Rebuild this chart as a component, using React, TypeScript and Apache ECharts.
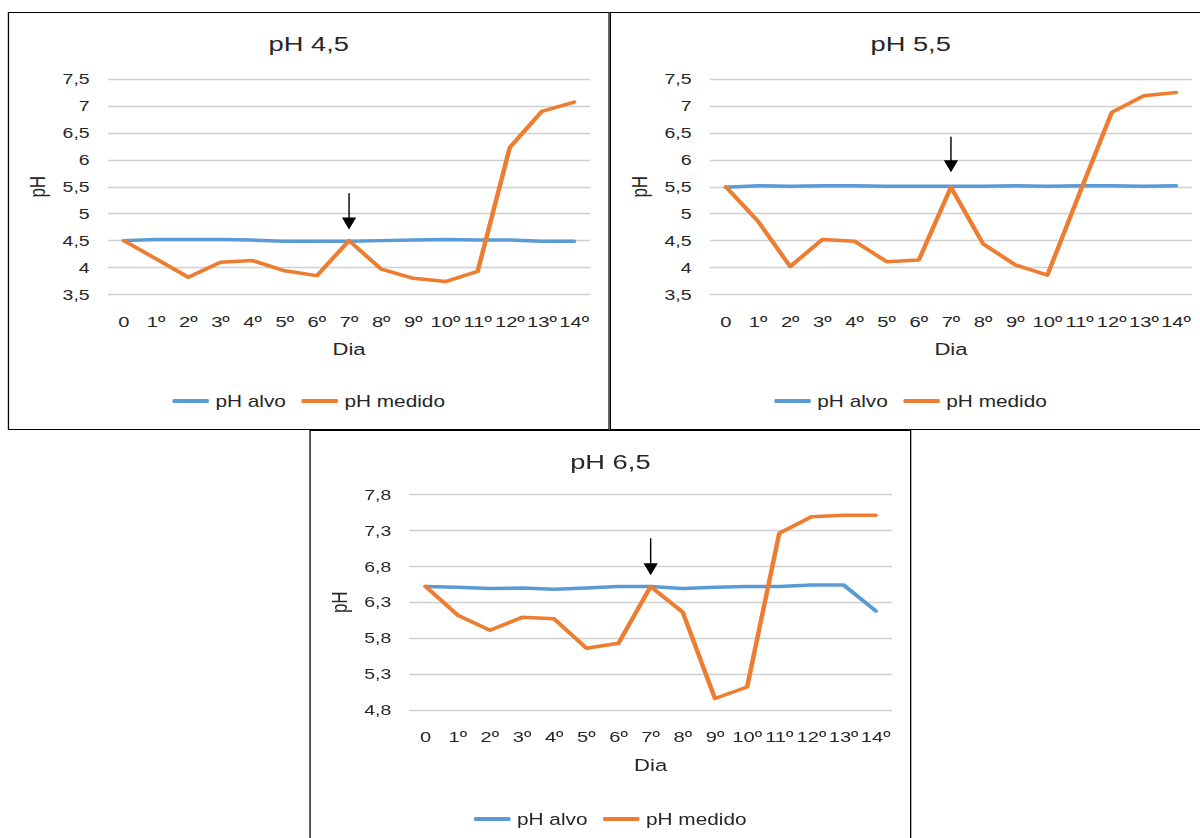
import React, { useEffect, useRef } from "react";
import * as echarts from "echarts";

// Days of the trial
const days = ["0", "1º", "2º", "3º", "4º", "5º", "6º", "7º", "8º", "9º", "10º", "11º", "12º", "13º", "14º"];

// pH 4,5 treatment
const alvo45 = [4.5, 4.52, 4.52, 4.52, 4.51, 4.49, 4.49, 4.49, 4.5, 4.51, 4.52, 4.51, 4.51, 4.49, 4.49];
const medido45 = [4.5, 4.16, 3.82, 4.1, 4.13, 3.94, 3.85, 4.5, 3.97, 3.8, 3.74, 3.93, 6.23, 6.9, 7.07];

// pH 5,5 treatment
const alvo55 = [5.49, 5.52, 5.51, 5.52, 5.52, 5.51, 5.51, 5.51, 5.51, 5.52, 5.51, 5.52, 5.52, 5.51, 5.52];
const medido55 = [5.5, 4.86, 4.02, 4.52, 4.49, 4.11, 4.14, 5.49, 4.44, 4.05, 3.86, 5.38, 6.88, 7.19, 7.25];

// pH 6,5 treatment
const alvo65 = [6.52, 6.51, 6.49, 6.5, 6.48, 6.5, 6.52, 6.52, 6.49, 6.51, 6.52, 6.52, 6.54, 6.54, 6.18];
const medido65 = [6.52, 6.12, 5.91, 6.09, 6.07, 5.66, 5.73, 6.52, 6.16, 4.96, 5.12, 7.26, 7.49, 7.51, 7.51];

// Day of the intervention marked by the arrow
const arrowDay = "7º";

const seriesNames = ["pH alvo", "pH medido"];

// Horizontal stretch applied to the whole figure
const STRETCH = 1.3;
const PAGE_W = 1200;
const PAGE_H = 838;
const PANEL_W = 602 / STRETCH;
const PANEL_H = 418;

const FONT = '"Liberation Sans", Arial, Helvetica, sans-serif';
const TEXT = "#262626";
const BLUE = "#5b9bd5";
const ORANGE = "#ed7d31";
const GRID = "#d0d0d0";

type Panel = {
  key: string;
  title: string;
  alvo: number[];
  medido: number[];
  yMin: number;
  yMax: number;
  arrowFrom: number;
  arrowTo: number;
  left: number;
  top: number;
  gridTop: number;
};

const panels: Panel[] = [
  { key: "p45", title: "pH 4,5", alvo: alvo45, medido: medido45, yMin: 3.5, yMax: 7.5, arrowFrom: 5.38, arrowTo: 4.82, left: 8 / STRETCH, top: 12, gridTop: 67 },
  { key: "p55", title: "pH 5,5", alvo: alvo55, medido: medido55, yMin: 3.5, yMax: 7.5, arrowFrom: 6.43, arrowTo: 5.88, left: 610 / STRETCH, top: 12, gridTop: 67 },
  { key: "p65", title: "pH 6,5", alvo: alvo65, medido: medido65, yMin: 4.8, yMax: 7.8, arrowFrom: 7.19, arrowTo: 6.76, left: 309 / STRETCH, top: 430, gridTop: 64.5 },
];

const fmt = (v: number) => {
  const s = v.toFixed(1);
  return (s.endsWith(".0") ? s.slice(0, -2) : s).replace(".", ",");
};

function buildOption(p: Panel): echarts.EChartsOption {
  return {
    animation: false,
    backgroundColor: "#ffffff",
    textStyle: { fontFamily: FONT, color: TEXT },
    title: {
      text: p.title,
      left: "center",
      top: 21,
      padding: 0,
      textStyle: { fontFamily: FONT, fontSize: 21, fontWeight: "normal", color: TEXT },
    },
    legend: {
      data: seriesNames,
      left: "center",
      top: 381,
      padding: 0,
      icon: "roundRect",
      itemWidth: 28,
      itemHeight: 4,
      itemGap: 12,
      textStyle: { fontFamily: FONT, fontSize: 16, color: TEXT },
    },
    grid: { left: 77, width: 371, top: p.gridTop, height: 215.5 },
    xAxis: {
      type: "category",
      data: days,
      boundaryGap: true,
      axisLine: { show: false },
      axisTick: { show: false },
      axisLabel: { interval: 0, fontFamily: FONT, fontSize: 15.5, color: TEXT, margin: 19 },
      name: "Dia",
      nameLocation: "middle",
      nameGap: 46,
      nameTextStyle: { fontFamily: FONT, fontSize: 17, color: TEXT },
    },
    yAxis: {
      type: "value",
      min: p.yMin,
      max: p.yMax,
      interval: 0.5,
      axisLine: { show: false },
      axisTick: { show: false },
      axisLabel: { fontFamily: FONT, fontSize: 15, color: TEXT, margin: 14, formatter: (v: number) => fmt(v) },
      splitLine: { lineStyle: { color: GRID, width: 1.3 } },
      name: "pH",
      nameLocation: "middle",
      nameGap: 36,
      nameTextStyle: { fontFamily: FONT, fontSize: 17, color: TEXT },
    },
    series: [
      {
        name: seriesNames[0],
        type: "line",
        data: p.alvo,
        symbol: "none",
        itemStyle: { color: BLUE },
        lineStyle: { color: BLUE, width: 3.5, cap: "round", join: "round" },
      },
      {
        name: seriesNames[1],
        type: "line",
        data: p.medido,
        symbol: "none",
        itemStyle: { color: ORANGE },
        lineStyle: { color: ORANGE, width: 3.5, cap: "round", join: "round" },
        markLine: {
          silent: true,
          symbol: ["none", "triangle"],
          symbolSize: [11, 12],
          label: { show: false },
          lineStyle: { color: "#000000", width: 1.1, type: "solid" },
          emphasis: { disabled: true },
          data: [[{ coord: [arrowDay, p.arrowFrom] }, { coord: [arrowDay, p.arrowTo] }]] as any,
        },
      },
    ],
  };
}

function ChartPanel({ panel }: { panel: Panel }) {
  const ref = useRef<HTMLDivElement>(null);
  useEffect(() => {
    if (!ref.current) return;
    const chart = echarts.init(ref.current, null, { renderer: "svg" });
    chart.setOption(buildOption(panel));
    return () => chart.dispose();
  }, [panel]);
  return (
    <div style={{ position: "absolute", left: panel.left, top: panel.top, width: PANEL_W, height: PANEL_H, background: "#fff" }}>
      <div ref={ref} style={{ width: "100%", height: "100%" }} />
      <div
        style={{
          position: "absolute",
          left: 0,
          top: 0,
          right: 0,
          bottom: 0,
          border: "1.3px solid #000",
          pointerEvents: "none",
        }}
      />
    </div>
  );
}

export default function App() {
  return (
    <div style={{ position: "fixed", left: 0, top: 0, width: PAGE_W, height: PAGE_H, overflow: "hidden", background: "#fff" }}>
      <div
        style={{
          position: "absolute",
          left: 0,
          top: 0,
          width: PAGE_W / STRETCH,
          height: PAGE_H,
          transform: `scaleX(${STRETCH})`,
          transformOrigin: "0 0",
        }}
      >
        {panels.map((p) => (
          <ChartPanel key={p.key} panel={p} />
        ))}
      </div>
    </div>
  );
}
